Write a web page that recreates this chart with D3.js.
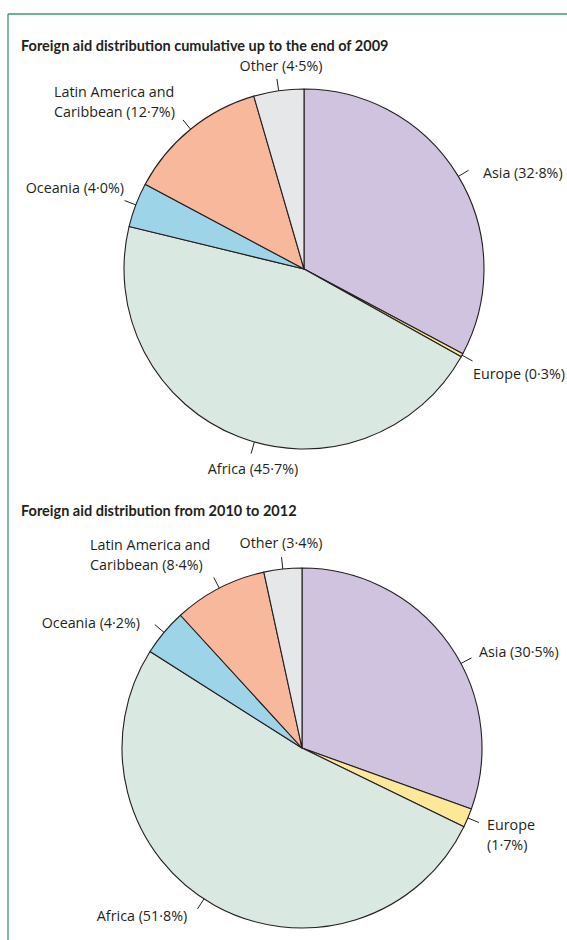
<!DOCTYPE html>
<html>
<head>
<meta charset="utf-8">
<script src="https://cdn.jsdelivr.net/npm/d3@7"></script>
<style>
  html, body { margin: 0; padding: 0; background: #fff; }
  svg { display: block; }
  text { font-family: "Open Sans", "Noto Sans", sans-serif; fill: #231f20; }
  text.title { font-family: Lato, "Open Sans", sans-serif; }
</style>
</head>
<body>
<svg id="chart" width="567" height="940"></svg>
<script>
// Regions, in clockwise order from 12 o'clock
const regions = ["Asia", "Europe", "Africa", "Oceania", "Latin America and Caribbean", "Other"];
// Share of foreign aid (%)
const shareTo2009 = [32.8, 0.3, 45.7, 4.0, 12.7, 4.5];
const share2010to2012 = [30.5, 1.7, 51.8, 4.2, 8.4, 3.4];
const panelTitles = [
  "Foreign aid distribution cumulative up to the end of 2009",
  "Foreign aid distribution from 2010 to 2012"
];

const palette = ["#cfc3e0", "#fce898", "#d9e8e0", "#9dd4e7", "#f8b89c", "#e6e7e9"];
const ink = "#231f20";
const frame = "#3d9a6c";

// Label placement per panel: text anchor point, alignment, line breaks,
// and optional leader angle (degrees clockwise from top) when not at slice centre.
const panels = [
  {
    values: shareTo2009, title: panelTitles[0], titleY: 51,
    cx: 304, cy: 269, r: 180,
    labels: [
      { x: 483, y: 178, anchor: "start", lines: 1 },
      { x: 473, y: 379, anchor: "start", lines: 1 },
      { x: 253, y: 474, anchor: "middle", lines: 1, angle: 196 },
      { x: 124, y: 193, anchor: "end", lines: 1 },
      { x: 54, y: 97, anchor: "start", lines: 2 },
      { x: 281, y: 71, anchor: "middle", lines: 1 }
    ]
  },
  {
    values: share2010to2012, title: panelTitles[1], titleY: 516,
    cx: 302, cy: 748, r: 180,
    labels: [
      { x: 479, y: 657, anchor: "start", lines: 1, angle: 62 },
      { x: 487, y: 830, anchor: "start", lines: 2 },
      { x: 142, y: 921, anchor: "middle", lines: 1, angle: 213 },
      { x: 140, y: 628, anchor: "end", lines: 1 },
      { x: 90, y: 550, anchor: "start", lines: 2 },
      { x: 281, y: 548, anchor: "middle", lines: 1 }
    ]
  }
];

const fmt = v => v.toFixed(1).replace(".", "\u00b7") + "%";

function labelLines(name, value, lines) {
  const pct = "(" + fmt(value) + ")";
  if (lines === 1) return [name + " " + pct];
  const words = name.split(" ");
  if (words.length === 1) return [name, pct];
  const last = words.pop();
  return [words.join(" "), last + " " + pct];
}

const svg = d3.select("#chart");

// Green frame rules along the top and left
svg.append("line").attr("x1", 8).attr("x2", 567).attr("y1", 14).attr("y2", 14)
  .attr("stroke", frame).attr("stroke-width", 1.3);
svg.append("line").attr("x1", 8).attr("x2", 8).attr("y1", 14).attr("y2", 940)
  .attr("stroke", frame).attr("stroke-width", 1.3);

const pie = d3.pie().sort(null).value(d => d.value).startAngle(0).endAngle(2 * Math.PI);

panels.forEach(p => {
  svg.append("text")
    .attr("class", "title")
    .attr("x", 21).attr("y", p.titleY)
    .attr("font-size", 14.5).attr("font-weight", 700)
    .text(p.title);

  const data = regions.map((name, i) => ({ name, value: p.values[i], color: palette[i], lab: p.labels[i] }));
  const arcs = pie(data);
  const arc = d3.arc().innerRadius(0).outerRadius(p.r);

  const g = svg.append("g").attr("transform", `translate(${p.cx},${p.cy})`);
  g.selectAll("path.slice").data(arcs).join("path")
    .attr("class", "slice")
    .attr("d", arc)
    .attr("fill", d => d.data.color)
    .attr("stroke", ink)
    .attr("stroke-width", 1.1)
    .attr("stroke-linejoin", "round");

  // Leader ticks
  arcs.forEach(a => {
    const ang = a.data.lab.angle !== undefined
      ? a.data.lab.angle * Math.PI / 180
      : (a.startAngle + a.endAngle) / 2;
    const r0 = p.r, r1 = p.r + 12;
    g.append("line")
      .attr("x1", r0 * Math.sin(ang)).attr("y1", -r0 * Math.cos(ang))
      .attr("x2", r1 * Math.sin(ang)).attr("y2", -r1 * Math.cos(ang))
      .attr("stroke", ink).attr("stroke-width", 1);
  });

  // Labels
  arcs.forEach(a => {
    const lab = a.data.lab;
    const lines = labelLines(a.data.name, a.data.value, lab.lines);
    const t = svg.append("text")
      .attr("x", lab.x).attr("y", lab.y)
      .attr("text-anchor", lab.anchor)
      .attr("font-size", 14.3);
    lines.forEach((ln, k) => {
      t.append("tspan").attr("x", lab.x).attr("dy", k === 0 ? 0 : 20).text(ln);
    });
  });
});
</script>
</body>
</html>
